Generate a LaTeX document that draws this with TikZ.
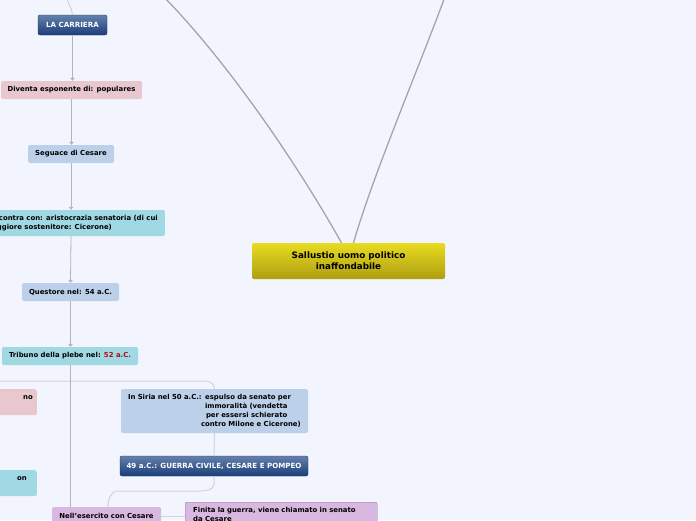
\documentclass[tikz,border=0pt]{standalone}
\usepackage{fontspec}
\setmainfont{DejaVu Sans}
\usetikzlibrary{arrows.meta,positioning,calc}
\definecolor{mmback}{RGB}{243,245,254}
\definecolor{mmpink}{RGB}{232,200,206}
\definecolor{mmblue}{RGB}{188,208,234}
\definecolor{mmcyan}{RGB}{160,216,228}
\definecolor{mmpurple}{RGB}{216,184,224}
\definecolor{mmpurpledark}{RGB}{150,120,160}
\definecolor{mmnavytop}{RGB}{100,128,172}
\definecolor{mmnavy}{RGB}{26,62,120}
\definecolor{mmyellowtop}{RGB}{232,220,32}
\definecolor{mmyellow}{RGB}{174,158,18}
\definecolor{mmred}{RGB}{170,16,16}
\definecolor{mmline}{RGB}{180,180,186}
\definecolor{mmlight}{RGB}{208,210,220}
\definecolor{mmroot}{RGB}{164,164,170}

\begin{document}
\begin{tikzpicture}[
  x=1pt,y=-1pt,
  every node/.style={font=\fontsize{6.9}{8.6}\selectfont\bfseries},
  mmnode/.style={rounded corners=2pt,inner sep=0pt,align=center},
  pinknode/.style={mmnode,fill=mmpink},
  bluenode/.style={mmnode,fill=mmblue},
  cyannode/.style={mmnode,fill=mmcyan},
  purplenode/.style={mmnode,fill=mmpurple},
  navynode/.style={mmnode,top color=mmnavytop,bottom color=mmnavy,draw=mmnavy!85!black,text=white,
                   font=\fontsize{7.1}{8.6}\selectfont\bfseries},
  rootnode/.style={mmnode,top color=mmyellowtop,bottom color=mmyellow,
                   font=\fontsize{8.8}{11}\selectfont\bfseries},
  arrowline/.style={draw=mmline,line width=0.8pt,-{Triangle[width=4.5pt,length=3pt]}},
  plainline/.style={draw=mmlight,line width=1pt},
  rootline/.style={draw=mmroot,line width=1.3pt},
]
  \useasboundingbox (0,0) rectangle (696,520);
  \clip (0,0) rectangle (696,520);
  \fill[mmback] (0,0) rectangle (696,520);

  % central topic
  \node[rootnode,minimum width=193pt,minimum height=36pt] (sallustio) at (348.5,261)
    {Sallustio uomo politico\\inaffondabile};
  \coordinate (upleft) at (160,-7);
  \coordinate (upright) at (446,-6);
  \draw[rootline] ($(sallustio.north)+(-7,0)$) .. controls (291,153) and (220,53) .. (upleft);
  \draw[rootline] ($(sallustio.north)+(5,0)$) .. controls (373,175) and (418,70) .. (upright);

  % career column
  \node[navynode,minimum width=69pt,minimum height=20pt] (carriera) at (72.5,25) {LA CARRIERA};
  \node[pinknode,minimum width=141pt,minimum height=18pt] (populares) at (71.5,90)
    {Diventa esponente di: populares};
  \node[bluenode,minimum width=86pt,minimum height=18pt] (seguace) at (71,154) {Seguace di Cesare};
  \node[cyannode,anchor=east,align=left,minimum height=26pt,inner xsep=7pt] (scontra) at (165,223)
    {Si scontra con: aristocrazia senatoria (di cui\\maggiore sostenitore: Cicerone)};
  \node[bluenode,minimum width=97pt,minimum height=18pt] (questore) at (70.5,292) {Questore nel: 54 a.C.};
  \node[cyannode,minimum width=136pt,minimum height=18pt] (tribuno) at (70,356)
    {Tribuno della plebe nel: \textcolor{mmred}{52 a.C.}};

  \coordinate (carrieratop) at (67,-3);
  \draw[plainline] (carriera.north) .. controls (72,8) and (68,5) .. (carrieratop);
  \draw[arrowline] (carriera.south) -- (carriera.south |- populares.north);
  \draw[arrowline] (populares.south) -- (populares.south |- seguace.north);
  \draw[arrowline] (seguace.south) -- (seguace.south |- scontra.north);
  \draw[arrowline] (seguace.south |- scontra.south) -- (questore.north);
  \draw[arrowline] (questore.south) -- (questore.south |- tribuno.north);

  % left branches, cut by the border
  \node[pinknode,anchor=north east,minimum width=80pt,minimum height=26pt,text width=72pt,align=right]
    (leftpink) at (37,389) {no\\\mbox{}};
  \node[cyannode,anchor=north east,minimum width=80pt,minimum height=26pt,text width=60pt,align=right]
    (leftcyan) at (37,470) {on\\\mbox{}};

  % after the tribunate
  \node[bluenode,minimum width=187pt,minimum height=44pt,align=left,text width=173pt,
        font=\fontsize{6.9}{8.8}\selectfont\bfseries] (siria) at (214.5,411)
    {In Siria nel 50 a.C.: espulso da senato per\\
     \hspace*{77pt}immoralità (vendetta\\
     \hspace*{78pt}per essersi schierato\\
     \hspace*{73pt}contro Milone e Cicerone)};
  \node[navynode,minimum width=188pt,minimum height=20pt] (guerra) at (214,466)
    {49 a.C.: GUERRA CIVILE, CESARE E POMPEO};
  \node[purplenode,minimum width=109pt,minimum height=18pt] (esercito) at (106.5,516)
    {Nell'esercito con Cesare};
  \node[purplenode,draw=mmpurpledark,anchor=north west,align=left,text width=176pt,
        inner xsep=8pt,inner ysep=5pt] (finita) at (185,502)
    {Finita la guerra, viene chiamato in senato\\da Cesare};

  \coordinate (branchleft) at (-10,381);
  \draw[plainline] (branchleft) -- (205,381) to[out=0,in=90] (siria.north);
  \draw[plainline] (siria.south) -- (guerra.north);
  \draw[plainline] (guerra.south) -- (214,484) to[out=-90,in=0] (200,491) -- (118,491)
    to[out=180,in=90] ($(esercito.north)+(1.5,0)$);
  \draw[draw=mmline,line width=0.8pt] (tribuno.south) -- (tribuno.south |- esercito.north);
  \draw[plainline] (esercito.east) -- (esercito.east -| finita.west);
\end{tikzpicture}
\end{document}
